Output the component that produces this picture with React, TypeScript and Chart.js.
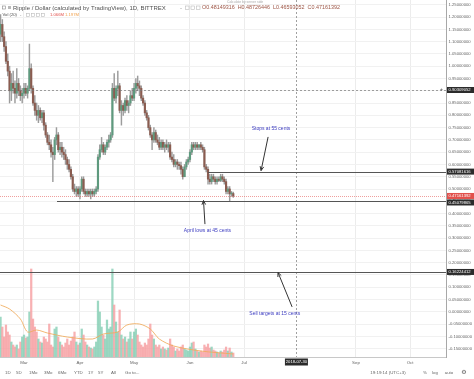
import React, { useEffect, useRef } from "react";
import { Chart, registerables } from "chart.js";
Chart.register(...registerables);

// Day numbers are counted from 2018-03-01 (day 0). First candle: 2018-02-16.
const START_DAY = -13;

const opens = [
  1.13, 1.17, 1.12, 1.08, 1.02, 0.98, 0.9, 0.93, 0.91, 0.89,
  0.93, 0.9, 0.88, 0.89, 0.91, 0.89, 0.91, 0.99, 0.91, 0.85,
  0.82, 0.8, 0.82, 0.79, 0.81, 0.76, 0.72, 0.69, 0.68, 0.65,
  0.64, 0.7, 0.72, 0.66, 0.67, 0.65, 0.64, 0.62, 0.6, 0.58,
  0.55, 0.5, 0.49, 0.5, 0.48, 0.5, 0.54, 0.49, 0.48, 0.49,
  0.48, 0.49, 0.48, 0.49, 0.5, 0.63, 0.66, 0.68, 0.65, 0.67,
  0.69, 0.7, 0.72, 0.91, 0.87, 0.91, 0.92, 0.82, 0.84, 0.82,
  0.86, 0.84, 0.85, 0.88, 0.87, 0.91, 0.93, 0.92, 0.91, 0.87,
  0.85, 0.81, 0.79, 0.75, 0.72, 0.7, 0.73, 0.7, 0.69, 0.67,
  0.69, 0.67, 0.68, 0.67, 0.68, 0.63, 0.62, 0.6, 0.61, 0.6,
  0.595, 0.58, 0.55, 0.59, 0.61, 0.62, 0.65, 0.68, 0.67, 0.68,
  0.67, 0.68, 0.67, 0.66, 0.59, 0.58, 0.54, 0.53, 0.55, 0.54,
  0.53, 0.54, 0.535, 0.55, 0.54, 0.53, 0.49, 0.5, 0.48, 0.48149316,
];
const highs = [
  1.21, 1.19, 1.14, 1.1, 1.05, 1.0, 0.97, 0.98, 0.94, 0.99,
  0.95, 0.92, 0.91, 0.93, 0.93, 0.92, 1.09, 1.01, 0.92, 0.88,
  0.85, 0.84, 0.83, 0.82, 0.82, 0.77, 0.73, 0.72, 0.7, 0.67,
  0.71, 0.75, 0.73, 0.69, 0.69, 0.67, 0.66, 0.63, 0.62, 0.59,
  0.56, 0.52, 0.51, 0.51, 0.51, 0.55, 0.55, 0.5, 0.5, 0.5,
  0.5, 0.5, 0.5, 0.51, 0.64, 0.68, 0.71, 0.69, 0.68, 0.7,
  0.72, 0.73, 0.93, 0.97, 0.92, 0.98, 0.93, 0.86, 0.85, 0.87,
  0.88, 0.86, 0.9, 0.91, 0.93, 0.95, 0.96, 0.94, 0.92, 0.88,
  0.86, 0.82, 0.8, 0.76, 0.73, 0.75, 0.74, 0.72, 0.71, 0.7,
  0.7, 0.69, 0.7, 0.69, 0.69, 0.65, 0.64, 0.62, 0.62, 0.61,
  0.61, 0.59, 0.6, 0.62, 0.63, 0.66, 0.69, 0.69, 0.69, 0.69,
  0.68, 0.69, 0.68, 0.67, 0.6, 0.59, 0.56, 0.56, 0.56, 0.55,
  0.55, 0.55, 0.56, 0.56, 0.55, 0.54, 0.51, 0.51, 0.49, 0.48726446,
];
const lows = [
  1.1, 1.1, 1.06, 1.01, 0.96, 0.85, 0.86, 0.89, 0.85, 0.87,
  0.88, 0.86, 0.85, 0.87, 0.88, 0.87, 0.9, 0.89, 0.84, 0.8,
  0.78, 0.77, 0.78, 0.77, 0.74, 0.71, 0.68, 0.66, 0.63, 0.53,
  0.62, 0.68, 0.65, 0.64, 0.63, 0.62, 0.6, 0.58, 0.57, 0.54,
  0.49, 0.48, 0.47, 0.47, 0.46, 0.49, 0.48, 0.47, 0.47, 0.47,
  0.46, 0.47, 0.47, 0.48, 0.49, 0.62, 0.65, 0.64, 0.64, 0.66,
  0.67, 0.69, 0.71, 0.86, 0.85, 0.88, 0.81, 0.76, 0.8, 0.81,
  0.82, 0.81, 0.84, 0.86, 0.86, 0.89, 0.9, 0.88, 0.86, 0.84,
  0.8, 0.78, 0.74, 0.71, 0.66, 0.69, 0.69, 0.68, 0.66, 0.66,
  0.66, 0.65, 0.66, 0.65, 0.62, 0.61, 0.59, 0.59, 0.58, 0.58,
  0.56, 0.54, 0.55, 0.58, 0.6, 0.61, 0.64, 0.66, 0.66, 0.66,
  0.66, 0.66, 0.65, 0.58, 0.57, 0.52, 0.52, 0.52, 0.53, 0.52,
  0.52, 0.53, 0.53, 0.53, 0.52, 0.48, 0.48, 0.45, 0.47, 0.46593052,
];
const closes = [
  1.17, 1.12, 1.08, 1.02, 0.98, 0.9, 0.93, 0.91, 0.89, 0.93,
  0.9, 0.88, 0.89, 0.91, 0.89, 0.91, 0.99, 0.91, 0.85, 0.82,
  0.8, 0.82, 0.79, 0.81, 0.76, 0.72, 0.69, 0.68, 0.65, 0.64,
  0.7, 0.72, 0.66, 0.67, 0.65, 0.64, 0.62, 0.6, 0.58, 0.55,
  0.5, 0.49, 0.5, 0.48, 0.5, 0.54, 0.49, 0.48, 0.49, 0.48,
  0.49, 0.48, 0.49, 0.5, 0.63, 0.66, 0.68, 0.65, 0.67, 0.69,
  0.7, 0.72, 0.91, 0.87, 0.91, 0.92, 0.82, 0.84, 0.82, 0.86,
  0.84, 0.85, 0.88, 0.87, 0.91, 0.93, 0.92, 0.91, 0.87, 0.85,
  0.81, 0.79, 0.75, 0.72, 0.7, 0.73, 0.7, 0.69, 0.67, 0.69,
  0.67, 0.68, 0.67, 0.68, 0.63, 0.62, 0.6, 0.61, 0.6, 0.595,
  0.58, 0.55, 0.59, 0.61, 0.62, 0.65, 0.68, 0.67, 0.68, 0.67,
  0.68, 0.67, 0.66, 0.59, 0.58, 0.54, 0.53, 0.55, 0.54, 0.53,
  0.54, 0.535, 0.55, 0.54, 0.53, 0.49, 0.5, 0.48, 0.4815, 0.47161392,
];
// Volume (millions)
const volumes = [
  200, 150, 100, 160, 125, 110, 75, 60, 50, 60,
  40, 75, 100, 110, 95, 100, 225, 440, 190, 150,
  125, 90, 75, 70, 100, 90, 75, 165, 60, 50,
  140, 150, 100, 75, 60, 50, 70, 90, 60, 80,
  100, 125, 75, 60, 70, 140, 110, 75, 60, 50,
  45, 40, 50, 75, 280, 225, 150, 110, 90, 185,
  140, 150, 440, 260, 175, 125, 235, 110, 90, 100,
  75, 90, 125, 90, 125, 140, 110, 75, 60, 50,
  70, 60, 90, 165, 110, 90, 60, 50, 60, 40,
  50, 40, 35, 45, 90, 60, 50, 30, 40, 30,
  50, 60, 40, 35, 30, 50, 70, 75, 40, 30,
  25, 30, 25, 60, 50, 65, 45, 50, 35, 30,
  25, 20, 30, 25, 35, 50, 30, 45, 25, 20,
];
// Vol (20) moving-average line, read at a few points
const maDays = [-13, -8, -2, 2, 7, 13, 24, 38, 44, 52, 57, 64, 70, 75, 83, 98, 116];
const maValues = [260, 240, 190, 125, 135, 120, 100, 90, 115, 125, 160, 165, 140, 90, 55, 30, 15];

const monthTickDays = [0, 31, 61, 92, 122, 153, 184, 214];
const monthTickLabels = ["Mar", "Apr", "May", "Jun", "Jul", "Aug", "Sep", "Oct"];
const priceTicks = [
  -0.15, -0.1, -0.05, 0, 0.05, 0.1, 0.15, 0.2, 0.25, 0.3, 0.35, 0.4, 0.45, 0.5,
  0.55, 0.6, 0.65, 0.7, 0.75, 0.8, 0.85, 0.9, 0.95, 1.0, 1.05, 1.1, 1.15, 1.2, 1.25,
];

const lastPrice = 0.47161392;
const crossPrice = 0.90309052;
const crossDay = 151;
const crossDateLabel = "2018-07-30";
const levelPrices = [0.57081616, 0.45079865, 0.16224412];
const levelStartDays = [102, 18.3, -14];
const axisBoxPrices = [0.90309052, 0.57081616, 0.47161392, 0.45079865, 0.16224412];
const axisBoxColors = ["#2b2b2b", "#2b2b2b", "#e2504c", "#2b2b2b", "#2b2b2b"];

const noteTexts = ["Stops at 55 cents", "April lows at 45 cents", "Sell targets at 15 cents"];
const noteDays = [136.9, 101.7, 139.0];
const notePrices = [0.747, 0.33, -0.006];
const arrowFromDays = [135.3, 100.3, 148.6];
const arrowFromPrices = [0.712, 0.357, 0.02];
const arrowToDays = [131.4, 99.5, 140.8];
const arrowToPrices = [0.575, 0.453, 0.16];

const UP = "#5e9a7e";
const DOWN = "#8a5c50";
const VOL_UP = "rgba(132,206,180,0.8)";
const VOL_DOWN = "rgba(246,158,160,0.8)";
const FONT = '"Liberation Sans", "DejaVu Sans", sans-serif';

function drawArrow(ctx: CanvasRenderingContext2D, x1: number, y1: number, x2: number, y2: number) {
  ctx.beginPath();
  ctx.moveTo(x1, y1);
  ctx.lineTo(x2, y2);
  ctx.stroke();
  const a = Math.atan2(y2 - y1, x2 - x1);
  const L = 4.5;
  const w = 0.42;
  ctx.beginPath();
  ctx.moveTo(x2 - L * Math.cos(a - w), y2 - L * Math.sin(a - w));
  ctx.lineTo(x2, y2);
  ctx.lineTo(x2 - L * Math.cos(a + w), y2 - L * Math.sin(a + w));
  ctx.stroke();
}

const overlayPlugin = {
  id: "overlay",
  afterDraw(chart: any) {
    const { ctx, chartArea: ca, scales } = chart;
    const xs = scales.x;
    const ys = scales.y;
    const px = (d: number) => xs.getPixelForValue(d);
    const py = (v: number) => ys.getPixelForValue(v);
    const W = chart.width;
    ctx.save();

    // crosshair
    ctx.save();
    ctx.strokeStyle = "rgba(120,120,120,0.7)";
    ctx.lineWidth = 1;
    ctx.setLineDash([2, 2]);
    ctx.beginPath();
    const cy = Math.round(py(crossPrice)) + 0.5;
    ctx.moveTo(ca.left, cy);
    ctx.lineTo(ca.right, cy);
    const cx = Math.round(px(crossDay)) + 0.5;
    ctx.moveTo(cx, ca.top);
    ctx.lineTo(cx, ca.bottom);
    ctx.stroke();
    ctx.restore();

    // last price line
    ctx.save();
    ctx.strokeStyle = "rgba(226,80,76,0.55)";
    ctx.setLineDash([1, 1]);
    ctx.beginPath();
    const ly = Math.round(py(lastPrice)) + 0.5;
    ctx.moveTo(ca.left, ly);
    ctx.lineTo(ca.right, ly);
    ctx.stroke();
    ctx.restore();

    // level lines
    ctx.strokeStyle = "#555555";
    ctx.lineWidth = 1;
    levelPrices.forEach((p, i) => {
      const y = Math.round(py(p)) + 0.5;
      ctx.beginPath();
      ctx.moveTo(Math.max(ca.left, px(levelStartDays[i])), y);
      ctx.lineTo(ca.right, y);
      ctx.stroke();
    });

    // arrows
    ctx.strokeStyle = "#333333";
    ctx.lineWidth = 1;
    arrowFromDays.forEach((d, i) => {
      drawArrow(ctx, px(d), py(arrowFromPrices[i]), px(arrowToDays[i]), py(arrowToPrices[i]));
    });

    // note texts
    ctx.fillStyle = "#3c3cc0";
    ctx.font = `5px ${FONT}`;
    ctx.textAlign = "center";
    ctx.textBaseline = "middle";
    noteTexts.forEach((t, i) => {
      ctx.fillText(t, px(noteDays[i]), py(notePrices[i]));
    });

    // right axis label boxes
    const boxes = axisBoxPrices.map((p, i) => ({ p, y: py(p), c: axisBoxColors[i] }));
    boxes.sort((a, b) => a.y - b.y);
    for (let i = 1; i < boxes.length; i++) {
      if (boxes[i].y - boxes[i - 1].y < 6.5) boxes[i].y = boxes[i - 1].y + 6.5;
    }
    ctx.font = `4.2px ${FONT}`;
    ctx.textAlign = "left";
    boxes.forEach((b) => {
      ctx.fillStyle = b.c;
      ctx.fillRect(ca.right + 1, b.y - 3, W - ca.right - 1, 6);
      ctx.fillStyle = "#ffffff";
      ctx.fillText(b.p.toFixed(8), ca.right + 2.5, b.y + 0.3);
    });
    // crosshair "+" marker
    ctx.fillStyle = "#555";
    ctx.font = `5px ${FONT}`;
    ctx.textAlign = "center";
    ctx.fillText("+", ca.right - 4.5, py(crossPrice));

    // date box on time axis
    ctx.fillStyle = "#2b2b2b";
    ctx.fillRect(px(crossDay) - 11.5, ca.bottom + 1.5, 23, 7);
    ctx.fillStyle = "#ffffff";
    ctx.font = `4.2px ${FONT}`;
    ctx.fillText(crossDateLabel, px(crossDay), ca.bottom + 5.2);

    // header
    ctx.textAlign = "left";
    ctx.strokeStyle = "#888";
    ctx.lineWidth = 0.6;
    ctx.strokeRect(2.5, 6, 3, 3);
    ctx.beginPath();
    ctx.moveTo(8, 6.5); ctx.lineTo(11, 6.5);
    ctx.moveTo(8, 7.5); ctx.lineTo(11, 7.5);
    ctx.moveTo(8, 8.5); ctx.lineTo(11, 8.5);
    ctx.stroke();
    ctx.fillStyle = "#505050";
    ctx.font = `6px ${FONT}`;
    ctx.fillText("Ripple / Dollar (calculated by TradingView), 1D, BITTREX", 13, 8);
    ctx.fillStyle = "#999";
    ctx.fillText("-", 180, 8);
    ctx.strokeStyle = "#bbb";
    ctx.strokeRect(185.5, 6, 3.5, 3.5);
    ctx.strokeRect(191, 6, 3.5, 3.5);
    ctx.strokeRect(196.5, 6, 3.5, 3.5);
    ctx.fillStyle = "#9c5444";
    ctx.font = `5.4px ${FONT}`;
    ctx.fillText("O0.48149316  H0.48726446  L0.46593052  C0.47161392", 202, 8);
    ctx.fillStyle = "#aaa";
    ctx.font = `3.4px ${FONT}`;
    ctx.fillText("Calculate by server side", 227, 2.5);

    ctx.fillStyle = "#505050";
    ctx.font = `4.2px ${FONT}`;
    ctx.fillText("Vol (20)", 2.5, 15);
    ctx.fillStyle = "#999";
    ctx.fillText("-", 20, 15);
    ctx.strokeStyle = "#bbb";
    [26, 31, 36, 41].forEach((x) => ctx.strokeRect(x + 0.5, 13.5, 3, 3));
    ctx.fillStyle = "#e2504c";
    ctx.fillText("1.066M", 50, 15);
    ctx.fillStyle = "#f0a04b";
    ctx.fillText("1.197M", 65, 15);

    // bottom toolbar
    ctx.fillStyle = "#666";
    ctx.font = `4.4px ${FONT}`;
    const tb: [string, number][] = [
      ["1D", 5], ["5D", 16], ["1Mo", 29], ["3Mo", 44], ["6Mo", 58], ["YTD", 74],
      ["1Y", 88], ["5Y", 98], ["All", 111], ["Go to...", 125],
    ];
    tb.forEach(([t, x]) => ctx.fillText(t, x, 372.5));
    ctx.textAlign = "center";
    ctx.fillText("19:19:14 (UTC+3)", 388, 372.5);
    ctx.fillText("%", 425, 372.5);
    ctx.fillText("log", 435, 372.5);
    ctx.fillText("auto", 449, 372.5);
    ctx.font = `6px ${FONT}`;
    ctx.fillText("\u2699", 464, 372.5);

    ctx.restore();
  },
};

export default function App() {
  const ref = useRef<HTMLCanvasElement | null>(null);
  useEffect(() => {
    document.body.style.margin = "0";
    const days = opens.map((_, i) => START_DAY + i);
    const wickData = days.map((d, i) => ({ x: d, y: [lows[i], highs[i]] }));
    const bodyData = days.map((d, i) => ({ x: d, y: [opens[i], closes[i]] }));
    const bodyColors = days.map((_, i) => (closes[i] >= opens[i] ? UP : DOWN));
    const volData = days.map((d, i) => ({ x: d, y: volumes[i] }));
    const volColors = days.map((_, i) => (closes[i] >= opens[i] ? VOL_UP : VOL_DOWN));
    const maData = maDays.map((d, i) => ({ x: d, y: maValues[i] }));

    const chart = new Chart(ref.current as HTMLCanvasElement, {
      type: "bar",
      data: {
        datasets: [
          {
            type: "line",
            data: maData,
            yAxisID: "yv",
            borderColor: "rgba(240,170,90,0.85)",
            borderWidth: 1,
            pointRadius: 0,
            tension: 0.3,
            order: 0,
          } as any,
          {
            data: bodyData,
            backgroundColor: bodyColors,
            barThickness: 1.5,
            minBarLength: 1,
            grouped: false,
            yAxisID: "y",
            order: 1,
          } as any,
          {
            data: wickData,
            backgroundColor: "#9c9c9c",
            barThickness: 0.8,
            grouped: false,
            yAxisID: "y",
            order: 2,
          } as any,
          {
            data: volData,
            backgroundColor: volColors,
            barThickness: 1.6,
            grouped: false,
            yAxisID: "yv",
            order: 3,
          } as any,
        ],
      },
      options: {
        responsive: false,
        animation: false,
        devicePixelRatio: 1,
        events: [],
        layout: { padding: 0 },
        plugins: { legend: { display: false }, tooltip: { enabled: false } },
        scales: {
          x: {
            type: "linear",
            position: "bottom",
            min: -13.3,
            max: 233.9,
            offset: false,
            afterBuildTicks: (scale: any) => {
              scale.ticks = monthTickDays.map((v) => ({ value: v }));
            },
            afterFit: (scale: any) => {
              scale.height = 22;
              scale.paddingLeft = 0;
              scale.paddingRight = 0;
            },
            grid: {
              offset: false,
              drawTicks: false,
              color: (c: any) => (c.tick && c.tick.value === 153 ? "rgba(0,0,0,0)" : "#ececec"),
            },
            border: { color: "#c8c8c8" },
            ticks: {
              autoSkip: false,
              maxRotation: 0,
              padding: 3,
              color: "#666",
              font: { size: 4.4, family: FONT },
              callback: (_v: any, i: number) => monthTickLabels[i],
            },
          } as any,
          y: {
            type: "linear",
            position: "right",
            min: -0.184,
            max: 1.2695,
            afterBuildTicks: (scale: any) => {
              scale.ticks = priceTicks.map((v) => ({ value: v }));
            },
            afterFit: (scale: any) => {
              scale.width = 28;
              scale.paddingTop = 0;
              scale.paddingBottom = 0;
            },
            grid: { drawTicks: false, color: "#f1f1f1" },
            border: { color: "#a8a8a8" },
            ticks: {
              autoSkip: false,
              padding: 2.5,
              color: "#666",
              font: { size: 4.2, family: FONT },
              callback: (v: any) => Number(v).toFixed(8),
            },
          } as any,
          yv: {
            type: "linear",
            display: false,
            min: 0,
            max: 1785,
          } as any,
        },
      },
      plugins: [overlayPlugin],
    } as any);
    return () => chart.destroy();
  }, []);
  return <canvas ref={ref} width={474} height={379} style={{ display: "block" }} />;
}
